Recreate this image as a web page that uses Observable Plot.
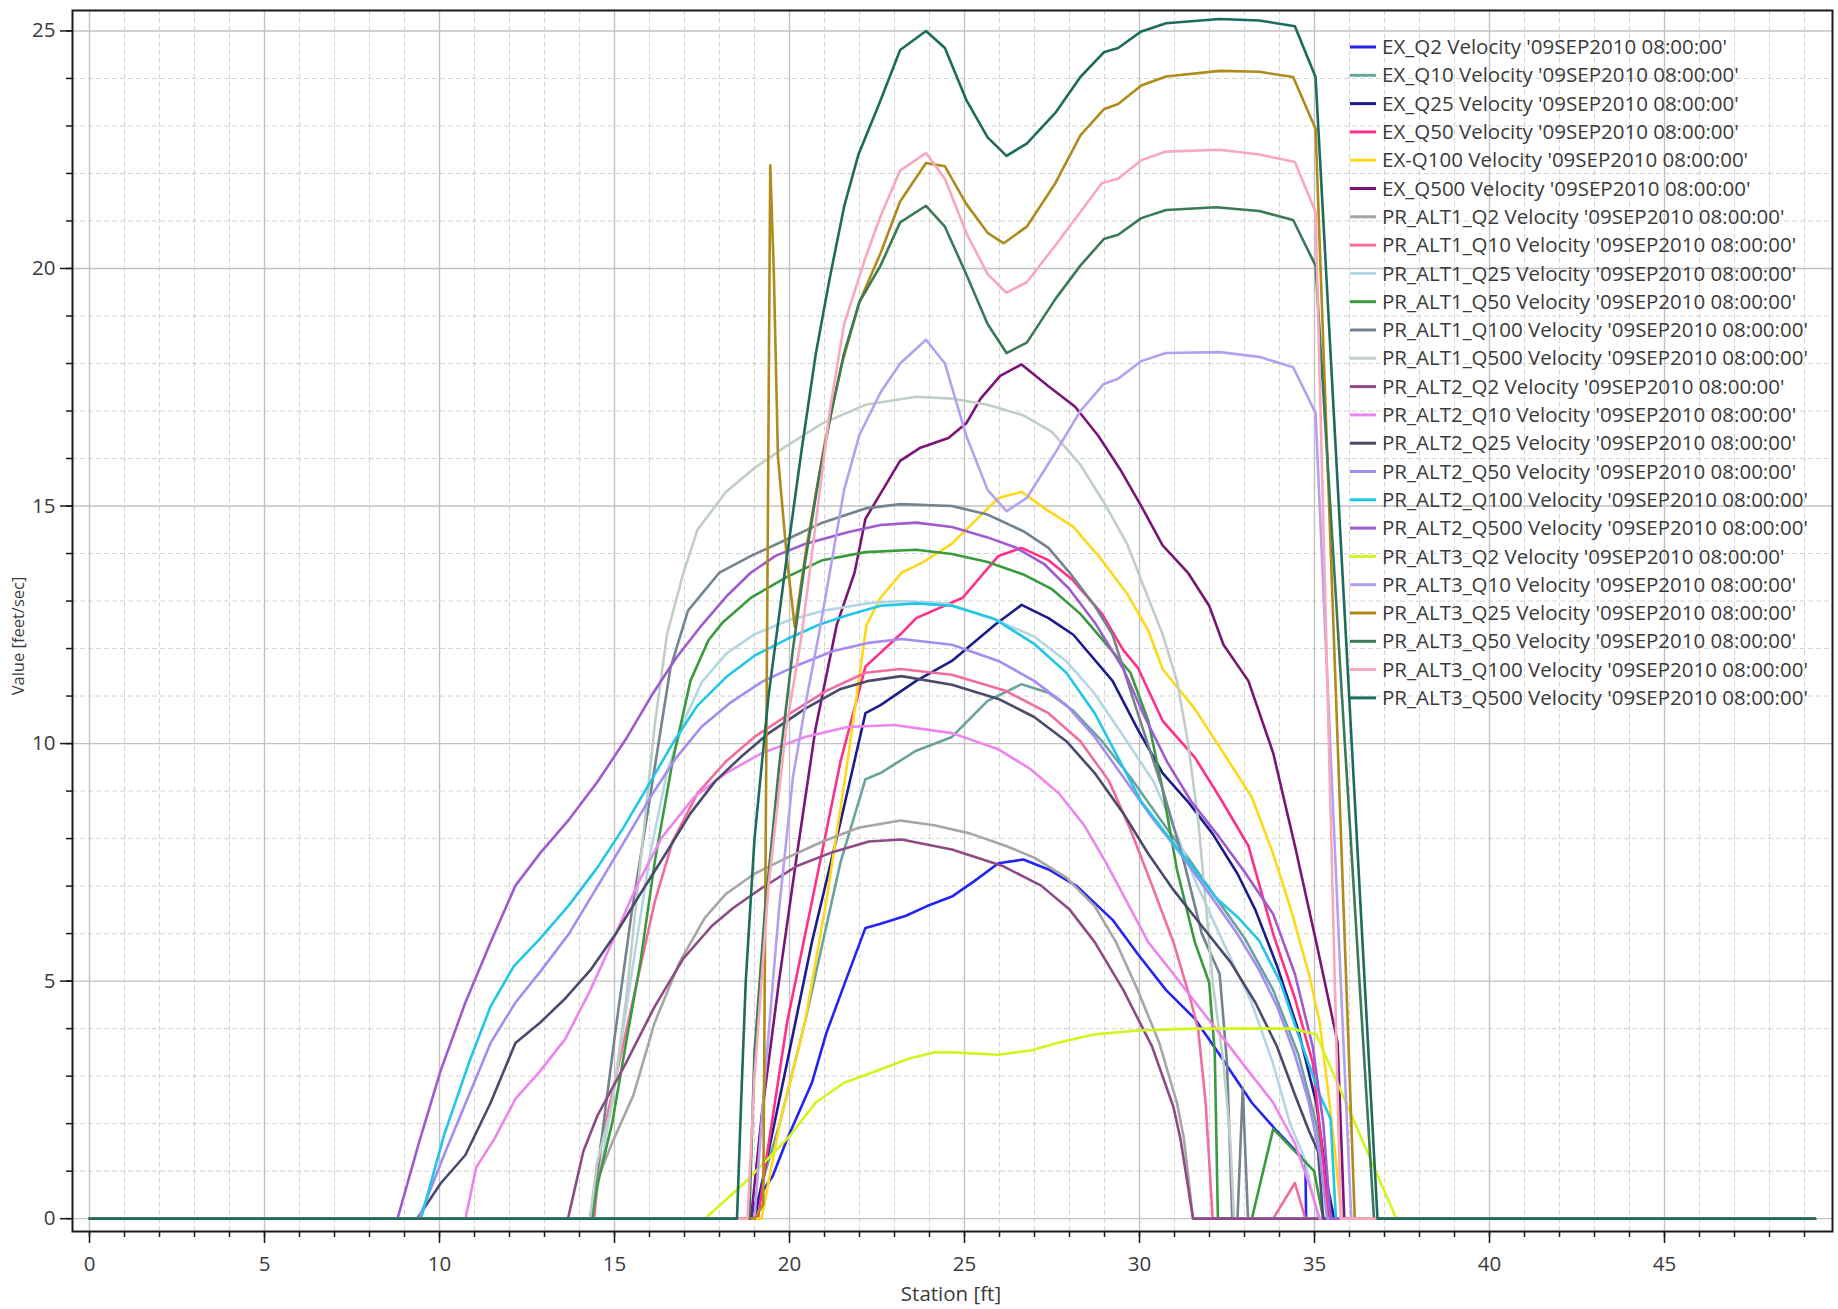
<!DOCTYPE html>
<html>
<head>
<meta charset="utf-8">
<script src="https://cdn.jsdelivr.net/npm/d3@7"></script>
<script src="https://cdn.jsdelivr.net/npm/@observablehq/plot@0.6"></script>
<style>
  html, body { margin: 0; padding: 0; background: #ffffff; }
  #chart { position: relative; width: 1838px; height: 1309px; }
</style>
</head>
<body>
<div id="chart"></div>
<script>
// ---------- Data ----------
const SERIES_NAMES = [
  "EX_Q2 Velocity '09SEP2010 08:00:00'",
  "EX_Q10 Velocity '09SEP2010 08:00:00'",
  "EX_Q25 Velocity '09SEP2010 08:00:00'",
  "EX_Q50 Velocity '09SEP2010 08:00:00'",
  "EX-Q100 Velocity '09SEP2010 08:00:00'",
  "EX_Q500 Velocity '09SEP2010 08:00:00'",
  "PR_ALT1_Q2 Velocity '09SEP2010 08:00:00'",
  "PR_ALT1_Q10 Velocity '09SEP2010 08:00:00'",
  "PR_ALT1_Q25 Velocity '09SEP2010 08:00:00'",
  "PR_ALT1_Q50 Velocity '09SEP2010 08:00:00'",
  "PR_ALT1_Q100 Velocity '09SEP2010 08:00:00'",
  "PR_ALT1_Q500 Velocity '09SEP2010 08:00:00'",
  "PR_ALT2_Q2 Velocity '09SEP2010 08:00:00'",
  "PR_ALT2_Q10 Velocity '09SEP2010 08:00:00'",
  "PR_ALT2_Q25 Velocity '09SEP2010 08:00:00'",
  "PR_ALT2_Q50 Velocity '09SEP2010 08:00:00'",
  "PR_ALT2_Q100 Velocity '09SEP2010 08:00:00'",
  "PR_ALT2_Q500 Velocity '09SEP2010 08:00:00'",
  "PR_ALT3_Q2 Velocity '09SEP2010 08:00:00'",
  "PR_ALT3_Q10 Velocity '09SEP2010 08:00:00'",
  "PR_ALT3_Q25 Velocity '09SEP2010 08:00:00'",
  "PR_ALT3_Q50 Velocity '09SEP2010 08:00:00'",
  "PR_ALT3_Q100 Velocity '09SEP2010 08:00:00'",
  "PR_ALT3_Q500 Velocity '09SEP2010 08:00:00'"
];

const SERIES_COLORS = [
  "#2323f5", "#6aa39e", "#1c1c8c", "#ff2f8a", "#ffd81a", "#7a1478",
  "#a6a6a6", "#f26c9f", "#b4d6e4", "#3a9a3e", "#748390", "#bfcfc7",
  "#8e4a86", "#ee84ee", "#4a4a6c", "#a48cf0", "#22c6e8", "#a05ad0",
  "#d2f51e", "#b5a0f0", "#b08a1a", "#3b7a57", "#f8a8bc", "#1d6b5c"
];

// [station ft, velocity ft/s]
const EX_Q2 = [[0,0],[18.9,0],[19.0,0.32],[19.52,0.9],[19.93,1.67],[20.64,2.86],[21.05,3.9],[21.6,5.0],[22.17,6.12],[22.58,6.2],[23.31,6.37],[23.93,6.58],[24.64,6.78],[25.25,7.09],[25.97,7.48],[26.68,7.56],[27.4,7.35],[28.21,7.0],[29.23,6.29],[29.95,5.57],[30.76,4.81],[31.58,4.21],[32.29,3.45],[33.21,2.44],[33.93,1.84],[34.74,1.21],[34.76,0],[49.3,0]];
const EX_Q10 = [[0,0],[19.0,0],[19.21,0.74],[19.72,2.0],[20.44,4.13],[20.95,5.82],[21.46,7.51],[22.17,9.25],[22.6,9.38],[23.62,9.85],[24.64,10.14],[25.66,10.9],[26.63,11.25],[27.4,11.07],[28.11,10.69],[28.93,10.05],[29.74,9.29],[30.56,8.44],[31.38,7.6],[32.19,6.75],[33.0,5.91],[33.82,4.81],[34.54,3.45],[35.05,2.0],[35.36,0.74],[35.5,0],[49.3,0]];
const EX_Q25 = [[0,0],[19.0,0],[19.21,0.74],[19.93,3.28],[20.64,5.82],[21.46,8.36],[22.17,10.64],[22.6,10.81],[23.62,11.32],[24.64,11.74],[25.87,12.5],[26.63,12.92],[27.4,12.64],[28.11,12.29],[29.23,11.32],[29.95,10.3],[30.66,9.38],[31.38,8.78],[32.09,8.1],[32.8,7.26],[33.31,6.5],[33.93,5.32],[34.54,3.96],[35.05,2.44],[35.36,0.74],[35.56,0],[49.3,0]];
const EX_Q50 = [[0,0],[19.1,0],[19.32,1.17],[19.93,4.13],[20.64,6.67],[21.46,9.63],[22.17,11.62],[23.17,12.3],[23.62,12.64],[24.95,13.07],[25.97,13.95],[26.63,14.12],[27.4,13.86],[28.11,13.43],[28.93,12.73],[29.54,11.96],[29.95,11.6],[30.66,10.48],[31.58,9.71],[32.29,8.87],[33.11,7.85],[33.82,5.99],[34.44,4.64],[34.95,3.28],[35.2,1.59],[35.4,0],[49.3,0]];
const EX_Q100 = [[0,0],[19.2,0],[19.72,2.0],[20.44,4.13],[21.05,6.67],[21.66,9.63],[22.2,12.5],[22.6,13.07],[23.21,13.6],[23.82,13.82],[24.64,14.21],[25.36,14.73],[25.97,15.17],[26.63,15.3],[27.29,14.95],[28.11,14.56],[28.93,13.86],[29.64,13.16],[30.25,12.38],[30.66,11.57],[31.58,10.73],[32.4,9.8],[33.21,8.87],[33.82,7.68],[34.33,6.5],[34.84,5.15],[35.15,4.13],[35.36,2.86],[35.56,1.59],[35.77,0],[49.3,0]];
const EX_Q500 = [[0,0],[18.9,0],[19.21,2.2],[19.7,5.0],[20.2,7.6],[20.74,10.3],[21.35,12.5],[21.86,13.6],[22.17,14.73],[22.6,15.26],[23.16,15.95],[23.72,16.22],[24.54,16.43],[25.05,16.74],[25.46,17.26],[26.02,17.74],[26.63,17.98],[27.4,17.52],[28.16,17.09],[28.82,16.48],[29.44,15.78],[30.05,15.0],[30.66,14.17],[31.38,13.6],[31.99,12.9],[32.4,12.08],[33.11,11.32],[33.82,9.8],[34.44,7.85],[35.05,5.82],[35.66,3.71],[35.85,0],[49.3,0]];
const PR_ALT1_Q2 = [[0,0],[14.31,0],[14.47,0.74],[14.93,1.59],[15.54,2.6],[16.15,4.13],[16.86,5.4],[17.58,6.33],[18.19,6.84],[19.0,7.26],[19.93,7.6],[20.95,7.94],[21.97,8.23],[23.17,8.38],[24.13,8.28],[25.15,8.11],[26.17,7.85],[26.99,7.6],[27.91,7.18],[28.72,6.58],[29.33,5.82],[29.95,4.81],[30.56,3.71],[31.07,2.44],[31.27,1.68],[31.53,0],[49.3,0]];
const PR_ALT1_Q10 = [[0,0],[14.42,0],[14.62,1.59],[15.13,3.28],[15.64,4.97],[16.15,6.67],[16.66,7.94],[17.37,8.95],[18.19,9.63],[19.0,10.14],[20.03,10.64],[21.05,11.11],[22.17,11.49],[23.17,11.57],[24.64,11.45],[26.17,11.11],[27.4,10.64],[28.31,10.05],[29.13,9.21],[29.74,8.19],[30.36,7.01],[30.97,5.82],[31.48,4.55],[31.68,3.96],[31.89,2.44],[32.09,0],[33.82,0],[34.44,0.75],[34.74,0],[49.3,0]];
const PR_ALT1_Q25 = [[0,0],[14.35,0],[14.6,1.0],[15.0,2.8],[15.5,5.2],[16.0,7.6],[16.5,9.4],[17.0,10.5],[17.5,11.3],[18.2,11.9],[19.0,12.3],[20.0,12.6],[21.0,12.8],[22.2,12.95],[23.2,13.0],[24.5,12.95],[25.9,12.6],[27.0,12.25],[27.9,11.74],[28.7,11.07],[29.5,10.2],[30.4,9.2],[31.0,8.2],[31.6,7.1],[32.4,5.8],[33.2,4.55],[33.8,3.3],[34.3,2.0],[34.7,1.3],[35.1,0],[49.3,0]];
const PR_ALT1_Q50 = [[0,0],[14.36,0],[14.52,0.74],[14.93,2.0],[15.33,3.7],[15.74,5.4],[16.15,7.51],[16.66,9.63],[17.17,11.32],[17.68,12.17],[18.09,12.55],[18.9,13.07],[19.93,13.51],[20.94,13.86],[22.17,14.03],[23.62,14.08],[24.64,13.99],[25.66,13.82],[26.68,13.56],[27.5,13.25],[28.31,12.73],[28.93,12.2],[29.74,11.49],[30.25,10.48],[30.66,9.04],[31.07,7.35],[31.58,5.82],[31.99,4.97],[32.15,3.5],[32.24,0],[33.21,0],[33.82,1.89],[34.99,1.0],[35.25,0],[49.3,0]];
const PR_ALT1_Q100 = [[0,0],[14.3,0],[14.6,1.5],[15.0,3.8],[15.5,6.5],[16.0,8.8],[16.6,11.6],[17.1,12.8],[18.0,13.6],[18.9,13.95],[19.93,14.3],[20.94,14.65],[22.17,14.95],[23.17,15.04],[24.64,15.0],[25.66,14.82],[26.68,14.47],[27.4,14.12],[28.0,13.6],[28.72,12.9],[29.23,12.29],[29.95,10.64],[30.66,9.04],[31.27,7.51],[31.78,6.0],[32.29,5.15],[32.5,3.28],[32.65,0],[32.8,0],[32.95,2.75],[33.1,0],[49.3,0]];
const PR_ALT1_Q500 = [[0,0],[14.3,0],[14.5,1.17],[14.93,2.4],[15.33,4.6],[15.74,7.5],[16.15,10.4],[16.5,12.3],[16.97,13.6],[17.37,14.5],[18.19,15.3],[19.0,15.8],[19.82,16.22],[20.94,16.74],[22.17,17.13],[23.62,17.3],[24.64,17.26],[25.66,17.13],[26.68,16.91],[27.5,16.56],[28.31,15.87],[28.98,15.08],[29.64,14.21],[30.15,13.25],[30.66,12.3],[31.07,11.32],[31.38,10.05],[31.68,8.36],[31.89,6.67],[32.09,4.97],[32.4,3.28],[32.6,1.59],[32.7,0],[49.3,0]];
const PR_ALT2_Q2 = [[0,0],[13.67,0],[14.11,1.42],[14.52,2.18],[15.33,3.28],[16.15,4.47],[16.97,5.48],[17.78,6.16],[18.39,6.54],[19.21,6.96],[20.23,7.43],[21.25,7.72],[22.27,7.94],[23.2,7.98],[24.64,7.77],[26.07,7.43],[27.19,7.01],[28.01,6.5],[28.72,5.82],[29.54,4.81],[30.36,3.62],[30.97,2.35],[31.17,1.68],[31.53,0],[49.3,0]];
const PR_ALT2_Q10 = [[0,0],[10.74,0],[11.05,1.08],[11.56,1.67],[12.17,2.52],[12.88,3.11],[13.6,3.79],[14.31,4.81],[14.93,5.82],[15.64,7.01],[16.35,8.02],[17.27,8.87],[18.19,9.38],[19.21,9.8],[20.44,10.14],[21.66,10.35],[23.0,10.39],[24.64,10.22],[25.97,9.88],[26.89,9.46],[27.7,8.95],[28.42,8.28],[29.03,7.51],[29.64,6.67],[30.25,5.82],[30.97,5.15],[31.68,4.47],[32.4,3.79],[33.11,3.11],[33.82,2.44],[34.44,1.59],[34.84,0.74],[35.15,0],[49.3,0]];
const PR_ALT2_Q25 = [[0,0],[9.36,0],[10.03,0.74],[10.74,1.34],[11.46,2.44],[12.17,3.7],[12.88,4.13],[13.6,4.64],[14.31,5.23],[15.03,5.99],[15.74,6.84],[16.46,7.68],[17.17,8.53],[17.88,9.21],[18.6,9.71],[19.41,10.22],[20.44,10.73],[21.46,11.15],[22.27,11.32],[23.2,11.42],[24.64,11.24],[25.97,10.94],[26.99,10.56],[27.91,10.05],[28.72,9.38],[29.54,8.53],[30.25,7.68],[30.97,6.92],[31.78,6.16],[32.6,5.4],[33.31,4.55],[33.93,3.62],[34.44,2.61],[34.84,1.85],[35.1,1.42],[35.25,0],[49.3,0]];
const PR_ALT2_Q50 = [[0,0],[9.41,0],[10.13,1.34],[10.84,2.6],[11.46,3.7],[12.17,4.55],[12.88,5.2],[13.7,6.0],[14.52,7.0],[15.33,8.0],[16.05,8.9],[16.76,9.7],[17.48,10.35],[18.29,10.85],[19.21,11.3],[20.23,11.65],[21.25,11.95],[22.27,12.12],[23.2,12.2],[24.64,12.08],[25.97,11.74],[26.99,11.32],[27.91,10.81],[28.72,10.14],[29.54,9.29],[30.36,8.44],[31.17,7.68],[31.99,6.84],[32.8,5.99],[33.42,5.23],[33.93,4.47],[34.44,3.45],[34.84,2.44],[35.15,1.34],[35.36,0],[49.3,0]];
const PR_ALT2_Q100 = [[0,0],[9.47,0],[10.13,1.76],[10.84,3.28],[11.46,4.47],[12.12,5.31],[12.88,5.9],[13.7,6.6],[14.52,7.4],[15.23,8.2],[15.95,9.1],[16.66,10.0],[17.37,10.8],[18.19,11.4],[19.0,11.85],[19.93,12.2],[20.84,12.5],[21.66,12.7],[22.6,12.9],[23.62,12.95],[24.64,12.9],[25.87,12.62],[26.99,12.1],[27.91,11.49],[28.72,10.64],[29.44,9.63],[30.05,8.78],[30.76,8.1],[31.48,7.43],[32.19,6.75],[32.8,6.35],[33.42,5.85],[34.03,4.97],[34.54,3.87],[35.15,2.61],[35.46,2.1],[35.61,0],[49.3,0]];
const PR_ALT2_Q500 = [[0,0],[8.8,0],[9.41,1.59],[10.03,3.11],[10.74,4.55],[11.46,5.82],[12.17,7.01],[12.88,7.7],[13.7,8.4],[14.52,9.2],[15.33,10.1],[16.05,11.0],[16.76,11.8],[17.5,12.5],[18.2,13.1],[18.9,13.6],[19.6,13.95],[20.44,14.2],[21.66,14.45],[22.6,14.6],[23.62,14.65],[24.64,14.56],[25.66,14.34],[26.48,14.12],[27.29,13.77],[28.0,13.25],[28.72,12.55],[29.54,11.57],[30.15,10.56],[30.8,9.6],[31.48,8.78],[32.29,8.02],[33.0,7.3],[33.82,6.41],[34.44,5.15],[34.95,3.62],[35.25,2.01],[35.46,0],[49.3,0]];
const PR_ALT3_Q2 = [[0,0],[17.58,0],[18.7,0.74],[20.03,1.76],[20.74,2.44],[21.56,2.86],[22.48,3.11],[23.42,3.37],[24.13,3.5],[24.64,3.5],[25.97,3.45],[26.89,3.54],[27.7,3.71],[28.72,3.88],[29.95,3.96],[31.58,4.0],[33.31,4.0],[34.33,4.0],[35.05,3.88],[37.34,0],[49.3,0]];
const PR_ALT3_Q10 = [[0,0],[19.0,0],[19.3,3.0],[19.7,6.5],[20.1,9.3],[20.5,11.0],[20.84,12.3],[21.15,13.6],[21.56,15.34],[22.0,16.5],[22.6,17.39],[23.16,18.0],[23.9,18.5],[24.44,18.0],[25.05,16.48],[25.66,15.34],[26.2,14.89],[26.78,15.17],[27.6,16.13],[28.31,17.0],[28.98,17.57],[29.39,17.68],[30.05,18.05],[30.76,18.22],[32.29,18.24],[33.42,18.14],[34.39,17.92],[35.03,16.96],[36.05,0],[49.3,0]];
const PR_ALT3_Q25 = [[0,0],[19.0,0],[19.25,0.3],[19.45,22.17],[19.55,19.97],[19.67,16.04],[19.93,13.86],[20.15,12.46],[20.5,14.2],[21.0,16.3],[21.5,18.0],[22.0,19.3],[22.6,20.32],[23.16,21.41],[23.9,22.22],[24.44,22.15],[25.05,21.36],[25.66,20.75],[26.12,20.53],[26.78,20.88],[27.6,21.8],[28.31,22.8],[28.98,23.35],[29.39,23.46],[30.05,23.85],[30.76,24.04],[32.29,24.16],[33.42,24.14],[34.39,24.03],[35.03,22.94],[36.15,0],[49.3,0]];
const PR_ALT3_Q50 = [[0,0],[18.85,0],[19.0,3.5],[19.3,6.5],[19.7,9.5],[20.1,12.0],[20.44,13.8],[20.84,15.6],[21.2,17.0],[21.56,18.22],[22.0,19.3],[22.6,20.06],[23.16,20.97],[23.9,21.32],[24.44,20.88],[25.05,19.88],[25.66,18.83],[26.2,18.22],[26.78,18.44],[27.6,19.36],[28.31,20.06],[28.98,20.62],[29.39,20.71],[30.05,21.06],[30.76,21.23],[32.19,21.29],[33.42,21.21],[34.39,21.02],[35.03,20.06],[36.7,0],[49.3,0]];
const PR_ALT3_Q100 = [[0,0],[18.8,0],[19.0,3.0],[19.4,7.0],[19.9,10.3],[20.33,12.2],[20.54,13.4],[20.84,15.17],[21.15,17.0],[21.56,18.83],[22.17,20.23],[22.6,21.1],[23.16,22.06],[23.9,22.43],[24.44,21.89],[25.05,20.75],[25.66,19.88],[26.2,19.49],[26.78,19.71],[27.6,20.49],[28.31,21.19],[28.93,21.8],[29.39,21.89],[30.05,22.28],[30.76,22.46],[32.29,22.5],[33.42,22.4],[34.44,22.24],[35.03,21.19],[35.75,0],[49.3,0]];
const PR_ALT3_Q500 = [[0,0],[18.5,0],[18.62,2.5],[18.75,5.0],[19.0,8.0],[19.4,11.0],[19.9,13.8],[20.35,16.2],[20.75,18.2],[21.15,19.8],[21.56,21.3],[21.97,22.4],[22.58,23.5],[23.16,24.6],[23.9,25.0],[24.44,24.64],[25.05,23.55],[25.66,22.76],[26.2,22.37],[26.78,22.63],[27.6,23.28],[28.31,24.03],[28.98,24.55],[29.39,24.64],[30.05,24.99],[30.76,25.16],[32.29,25.25],[33.42,25.22],[34.44,25.1],[35.03,24.03],[36.8,0],[49.3,0]];

const SERIES_VALUES = [
  EX_Q2, EX_Q10, EX_Q25, EX_Q50, EX_Q100, EX_Q500,
  PR_ALT1_Q2, PR_ALT1_Q10, PR_ALT1_Q25, PR_ALT1_Q50, PR_ALT1_Q100, PR_ALT1_Q500,
  PR_ALT2_Q2, PR_ALT2_Q10, PR_ALT2_Q25, PR_ALT2_Q50, PR_ALT2_Q100, PR_ALT2_Q500,
  PR_ALT3_Q2, PR_ALT3_Q10, PR_ALT3_Q25, PR_ALT3_Q50, PR_ALT3_Q100, PR_ALT3_Q500
];

const X_MAJOR_TICKS = [0, 5, 10, 15, 20, 25, 30, 35, 40, 45];
const X_MINOR_TICKS = d3.range(0, 50, 1);
const Y_MAJOR_TICKS = [0, 5, 10, 15, 20, 25];
const Y_MINOR_TICKS = d3.range(0, 26, 1);
const X_LABEL = "Station [ft]";
const Y_LABEL = "Value [feet/sec]";

// ---------- Build table ----------
const table = [];
SERIES_NAMES.forEach((name, i) => {
  for (const [x, v] of SERIES_VALUES[i]) table.push({series: name, x, v});
});

const FONT = "'Open Sans', 'Noto Sans', sans-serif";
const FS = 20.5;
const TEXT_COLOR = "#3a3a3a";

const svg = Plot.plot({
  width: 1838,
  height: 1309,
  marginLeft: 72,
  marginRight: 6,
  marginTop: 10,
  marginBottom: 78,
  style: {fontFamily: FONT, fontSize: FS + "px", color: TEXT_COLOR, background: "#ffffff", overflow: "visible"},
  x: {domain: [-0.486, 49.8], label: null},
  y: {domain: [-0.27, 25.43], label: null},
  color: {domain: SERIES_NAMES, range: SERIES_COLORS},
  marks: [
    Plot.ruleX(X_MINOR_TICKS.filter(d => d % 5 !== 0), {stroke: "#d4d4d4", strokeWidth: 1, strokeDasharray: "5,3"}),
    Plot.ruleY(Y_MINOR_TICKS.filter(d => d % 5 !== 0), {stroke: "#d4d4d4", strokeWidth: 1, strokeDasharray: "5,3"}),
    Plot.ruleX(X_MAJOR_TICKS, {stroke: "#c2c2c2", strokeWidth: 1.4}),
    Plot.ruleY(Y_MAJOR_TICKS, {stroke: "#c2c2c2", strokeWidth: 1.4}),
    Plot.line(table, {x: "x", y: "v", z: "series", stroke: "series", strokeWidth: 2.6, strokeLinejoin: "round"}),
    Plot.axisX(X_MINOR_TICKS, {tickSize: 6, tickFormat: () => "", stroke: "#1a1a1a", strokeWidth: 1.5, label: null}),
    Plot.axisX(X_MAJOR_TICKS, {tickSize: 12, tickPadding: 13, stroke: "#1a1a1a", strokeWidth: 1.5, fontSize: FS, fill: TEXT_COLOR, label: null}),
    Plot.axisY(Y_MINOR_TICKS, {tickSize: 6, tickFormat: () => "", stroke: "#1a1a1a", strokeWidth: 1.5, label: null}),
    Plot.axisY(Y_MAJOR_TICKS, {tickSize: 12, tickPadding: 5, stroke: "#1a1a1a", strokeWidth: 1.5, fontSize: FS, fill: TEXT_COLOR, label: null}),
    Plot.frame({stroke: "#1a1a1a", strokeWidth: 2})
  ]
});

const root = d3.select(svg);

// ---------- Axis titles ----------
root.append("text")
  .attr("x", 951).attr("y", 1294).attr("dy", "0.35em")
  .attr("text-anchor", "middle")
  .attr("font-family", FONT).attr("font-size", FS).attr("fill", TEXT_COLOR)
  .text(X_LABEL);
root.append("text")
  .attr("transform", "translate(18,636) rotate(-90)")
  .attr("dy", "0.35em")
  .attr("text-anchor", "middle")
  .attr("font-family", FONT).attr("font-size", 16.5).attr("fill", TEXT_COLOR)
  .text(Y_LABEL);

// ---------- Legend inside the plot area (top-right) ----------
const legend = root.append("g")
  .attr("font-family", FONT)
  .attr("font-size", FS)
  .attr("fill", TEXT_COLOR)
  .attr("text-anchor", "start");
SERIES_NAMES.forEach((name, i) => {
  const cy = 47 + i * 28.3;
  legend.append("line")
    .attr("x1", 1350).attr("x2", 1376)
    .attr("y1", cy).attr("y2", cy)
    .attr("stroke", SERIES_COLORS[i]).attr("stroke-width", 3);
  legend.append("text")
    .attr("x", 1382).attr("y", cy)
    .attr("dy", "0.35em")
    .attr("text-anchor", "start")
    .text(name);
});

document.getElementById("chart").appendChild(svg);
</script>
</body>
</html>
